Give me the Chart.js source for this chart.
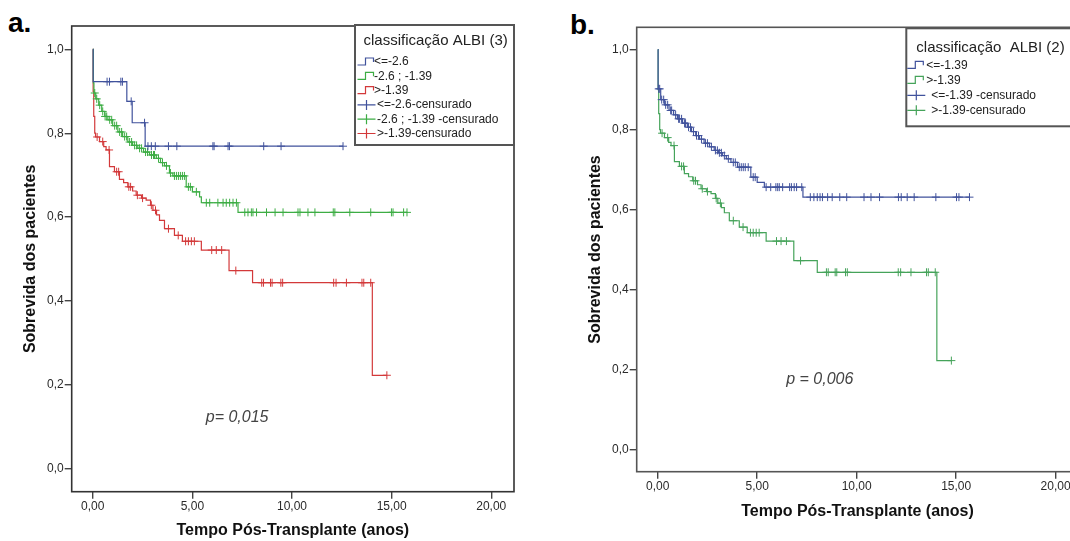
<!DOCTYPE html>
<html>
<head>
<meta charset="utf-8">
<script src="https://cdn.jsdelivr.net/npm/chart.js@4.4.1/dist/chart.umd.min.js"></script>
<style>
  html, body { margin: 0; padding: 0; background: #fff; overflow: hidden; width: 1070px; height: 541px; }
  #wrapA { position: absolute; left: 0; top: 0; width: 535px; height: 541px; }
  #wrapB { position: absolute; left: 540px; top: 0; width: 560px; height: 541px; }
  .tag { position: absolute; font: bold 28px "Liberation Sans", Arial, sans-serif; line-height: 28px; color: #000; }
</style>
</head>
<body>
<div class="tag" style="left:8px; top:9px;">a.</div>
<div class="tag" style="left:570px; top:11px;">b.</div>
<div id="wrapA"><canvas id="chartA" width="535" height="541"></canvas></div>
<div id="wrapB"><canvas id="chartB" width="560" height="541"></canvas></div>

<script>
// tempos em anos, sobrevida acumulada
const xTicks = [0, 5, 10, 15, 20];
const yTicks = [0, 0.2, 0.4, 0.6, 0.8, 1.0];

// painel a: classificação ALBI (3)
const albi3Names = ['<=-2.6', '-2.6 ; -1.39', '>-1.39'];
const albi3CensNames = ['<=-2.6-censurado', '-2.6 ; -1.39 -censurado', '>-1.39-censurado'];

const lowSteps = [[0, 1], [0.02, 0.923], [1.71, 0.876], [1.98, 0.825], [2.63, 0.769], [12.56, 0.769]];
const lowCens = [0.72, 0.84, 1.41, 1.49, 1.93, 2.6, 2.77, 2.94, 3.14, 3.8, 4.22, 6.03, 6.09, 6.79, 6.86, 8.58, 9.45, 12.56];

const midSteps = [[0, 1], [0.03, 0.92], [0.06, 0.896], [0.15, 0.882], [0.3, 0.867], [0.45, 0.852], [0.6, 0.84],
  [0.76, 0.832], [1.0, 0.818], [1.26, 0.803], [1.5, 0.792], [1.76, 0.779], [2.0, 0.771], [2.26, 0.764],
  [2.55, 0.755], [2.85, 0.748], [3.19, 0.74], [3.4, 0.73], [3.6, 0.722], [3.85, 0.705], [4.02, 0.698],
  [4.69, 0.672], [5.0, 0.66], [5.36, 0.648], [5.45, 0.634], [7.29, 0.611], [15.77, 0.611]];
const midCens = [0.1, 0.2, 0.35, 0.5, 0.62, 0.7, 0.85, 0.95, 1.1, 1.2, 1.35, 1.45, 1.6, 1.7, 1.85, 1.95, 2.1, 2.2,
  2.35, 2.45, 2.65, 2.75, 2.95, 3.05, 3.1, 3.3, 3.5, 3.7, 3.9, 4.1, 4.2, 4.3, 4.4, 4.5, 4.6, 4.8, 4.9, 5.2,
  5.7, 5.87, 6.28, 6.54, 6.7, 6.87, 7.04, 7.21, 7.63, 7.79, 7.96, 8.04, 8.22, 8.72, 9.15, 9.55, 10.3, 10.4,
  10.8, 11.15, 12.07, 12.15, 12.9, 13.95, 14.99, 15.07, 15.6, 15.77];

// >-1.39 (mesmo grupo nos dois painéis)
const highSteps = [[0, 1], [0.02, 0.9], [0.05, 0.84], [0.1, 0.8], [0.14, 0.791], [0.34, 0.78], [0.55, 0.768],
  [0.67, 0.76], [0.84, 0.72], [1.09, 0.708], [1.34, 0.69], [1.55, 0.682], [1.76, 0.672], [2.0, 0.662],
  [2.18, 0.652], [2.45, 0.645], [2.68, 0.64], [2.9, 0.628], [3.02, 0.616], [3.2, 0.605], [3.35, 0.592],
  [3.6, 0.572], [4.1, 0.556], [4.5, 0.542], [5.45, 0.521], [6.84, 0.472], [8.02, 0.443], [14.03, 0.222], [14.76, 0.222]];
const highCens = [0.22, 0.5, 0.82, 1.2, 1.3, 1.81, 1.9, 2.24, 2.5, 2.94, 3.15, 3.8, 4.29, 4.66, 4.8, 4.95, 5.1,
  5.97, 6.2, 6.47, 7.18, 8.48, 8.57, 8.92, 9.0, 9.44, 9.53, 12.09, 12.21, 12.73, 13.51, 13.6, 13.95, 14.76];

// painel b: classificação ALBI (2)
const albi2Names = ['<=-1.39', '>-1.39'];
const albi2CensNames = ['<=-1.39 -censurado', '>-1.39-censurado'];

const le139Steps = [[0, 1], [0.02, 0.902], [0.15, 0.875], [0.35, 0.862], [0.57, 0.848], [0.8, 0.837], [0.99, 0.827],
  [1.25, 0.816], [1.49, 0.806], [1.7, 0.795], [1.91, 0.785], [2.1, 0.776], [2.33, 0.766], [2.6, 0.757],
  [2.84, 0.748], [3.05, 0.742], [3.25, 0.735], [3.45, 0.727], [3.68, 0.718], [4.01, 0.706], [4.68, 0.681],
  [5.0, 0.668], [5.36, 0.656], [7.3, 0.631], [15.67, 0.631]];
const le139Cens = [0.05, 0.1, 0.2, 0.3, 0.4, 0.5, 0.65, 0.7, 0.9, 1.05, 1.1, 1.2, 1.35, 1.4, 1.55, 1.65, 1.8, 1.95,
  2.05, 2.2, 2.4, 2.5, 2.7, 2.9, 3.0, 3.1, 3.2, 3.35, 3.55, 3.8, 3.9, 4.1, 4.2, 4.3, 4.4, 4.55, 4.8, 4.9, 5.45,
  5.68, 5.94, 6.03, 6.11, 6.28, 6.63, 6.72, 6.86, 6.98, 7.24, 7.67, 7.85, 8.02, 8.16, 8.28, 8.54, 8.77, 9.15,
  9.5, 10.37, 10.72, 11.15, 12.1, 12.24, 12.54, 12.89, 13.98, 15.02, 15.14, 15.67];

const FONT = '"Liberation Sans", Arial, sans-serif';
const BLUE = '#40529c';
const GREEN_A = '#3dad44';
const RED = '#d3393a';
const GREEN_B = '#45a35a';

function survivalAt(steps, t) {
    let s = steps[0][1];
    for (let i = 0; i < steps.length; i++) {
        if (steps[i][0] <= t) s = steps[i][1];
    }
    return s;
}

function curveSets(steps, cens, color) {
    return [{
        data: steps.map(p => ({ x: p[0], y: p[1] })),
        showLine: true,
        stepped: true,
        borderColor: color,
        borderWidth: 1.2,
        pointRadius: 0,
        fill: false
    }, {
        data: cens.map(t => ({ x: t, y: survivalAt(steps, t) })),
        showLine: false,
        pointStyle: 'cross',
        pointRadius: 4,
        pointBorderWidth: 1,
        borderColor: color,
        backgroundColor: color
    }];
}

const framePlugin = {
    id: 'frame',
    beforeDatasetsDraw(chart, args, o) {
        const a = chart.chartArea, ctx = chart.ctx;
        ctx.save();
        ctx.strokeStyle = o.color || '#3a3a3a';
        ctx.lineWidth = 1.6;
        ctx.strokeRect(a.left, a.top, a.right - a.left, a.bottom - a.top);
        ctx.restore();
    }
};

const kmLegend = {
    id: 'kmLegend',
    afterDraw(chart, args, o) {
        const ctx = chart.ctx, a = chart.chartArea;
        const x0 = a.right - o.width, y0 = a.top + o.dy;
        ctx.save();
        ctx.fillStyle = '#fff';
        ctx.fillRect(x0, y0, o.width, o.height);
        ctx.strokeStyle = '#555';
        ctx.lineWidth = 2;
        ctx.strokeRect(x0, y0, o.width, o.height);
        ctx.fillStyle = '#222';
        ctx.textBaseline = 'middle';
        ctx.font = '15px ' + FONT;
        ctx.fillText(o.title, x0 + o.titleX, y0 + o.titleY);
        ctx.font = '12px ' + FONT;
        o.items.forEach((it, i) => {
            const cy = y0 + o.rowY + i * o.rowGap;
            const ix = x0 + o.iconX;
            ctx.strokeStyle = it.color;
            ctx.lineWidth = 1.2;
            ctx.beginPath();
            if (it.kind === 'step') {
                ctx.moveTo(ix, cy + 3);
                ctx.lineTo(ix + 8, cy + 3);
                ctx.lineTo(ix + 8, cy - 4);
                ctx.lineTo(ix + 16, cy - 4);
                ctx.lineTo(ix + 16, cy);
            } else {
                ctx.moveTo(ix, cy);
                ctx.lineTo(ix + 18, cy);
                ctx.moveTo(ix + 9, cy - 5);
                ctx.lineTo(ix + 9, cy + 5);
            }
            ctx.stroke();
            ctx.fillStyle = '#222';
            ctx.fillText(it.label, x0 + (it.kind === 'step' ? o.textX : o.textX2), cy);
        });
        ctx.restore();
    }
};

const pNote = {
    id: 'pNote',
    afterDraw(chart, args, o) {
        const ctx = chart.ctx;
        ctx.save();
        ctx.font = 'italic 16px ' + FONT;
        ctx.fillStyle = '#444';
        ctx.textBaseline = 'middle';
        ctx.fillText(o.text, chart.scales.x.getPixelForValue(o.x), chart.scales.y.getPixelForValue(o.y));
        ctx.restore();
    }
};

function kmChart(id, datasets, cfg) {
    return new Chart(document.getElementById(id), {
        type: 'scatter',
        data: { datasets: datasets },
        options: {
            responsive: false,
            animation: false,
            devicePixelRatio: 1,
            layout: { padding: cfg.padding },
            plugins: {
                legend: { display: false },
                tooltip: { enabled: false },
                frame: { color: cfg.frameColor },
                kmLegend: cfg.legend,
                pNote: cfg.note
            },
            scales: {
                x: {
                    type: 'linear',
                    min: -1.056,
                    max: 21.14,
                    afterBuildTicks: s => { s.ticks = xTicks.map(v => ({ value: v })); },
                    afterFit: s => { s.height = cfg.xHeight; },
                    ticks: {
                        callback: v => v.toFixed(2).replace('.', ','),
                        font: { family: FONT, size: 12 },
                        color: '#2a2a2a',
                        padding: 1,
                        maxRotation: 0,
                        autoSkip: false
                    },
                    grid: { drawOnChartArea: false, drawTicks: true, tickLength: 7, color: '#444', lineWidth: 1.4 },
                    border: { display: false },
                    title: {
                        display: true,
                        text: 'Tempo Pós-Transplante (anos)',
                        font: { family: FONT, size: 16, weight: 'bold' },
                        color: '#111',
                        padding: { top: 0, bottom: cfg.xTitlePad }
                    }
                },
                y: {
                    type: 'linear',
                    min: -0.056,
                    max: 1.056,
                    afterBuildTicks: s => { s.ticks = yTicks.map(v => ({ value: v })); },
                    afterFit: s => { s.width = cfg.yWidth; },
                    ticks: {
                        callback: v => v.toFixed(1).replace('.', ','),
                        font: { family: FONT, size: 12 },
                        color: '#2a2a2a',
                        padding: 1
                    },
                    grid: { drawOnChartArea: false, drawTicks: true, tickLength: 7, color: '#444', lineWidth: 1.4 },
                    border: { display: false },
                    title: {
                        display: true,
                        text: 'Sobrevida dos pacientes',
                        font: { family: FONT, size: 16, weight: 'bold' },
                        color: '#111',
                        padding: { top: cfg.yTitlePad, bottom: 0 }
                    }
                }
            }
        },
        plugins: [framePlugin, kmLegend, pNote]
    });
}

const setsA = [].concat(
    curveSets(lowSteps, lowCens, BLUE),
    curveSets(midSteps, midCens, GREEN_A),
    curveSets(highSteps, highCens, RED)
);
const colorsA = [BLUE, GREEN_A, RED];

kmChart('chartA', setsA, {
    padding: { left: 0, top: 26, right: 21, bottom: 0 },
    xHeight: 49.3,
    yWidth: 71.7,
    xTitlePad: 0.4,
    yTitlePad: 21.4,
    frameColor: '#333',
    legend: {
        title: 'classificação ALBI (3)',
        width: 159, height: 120, dy: -1,
        titleX: 8.5, titleY: 15.5,
        iconX: 2.5, textX: 19, textX2: 22,
        rowY: 37, rowGap: 14.3,
        items: albi3Names.map((n, i) => ({ label: n, color: colorsA[i], kind: 'step' }))
            .concat(albi3CensNames.map((n, i) => ({ label: n, color: colorsA[i], kind: 'cross' })))
    },
    note: { text: 'p= 0,015', x: 5.67, y: 0.122 }
});

const setsB = [].concat(
    curveSets(le139Steps, le139Cens, BLUE),
    curveSets(highSteps, highCens, GREEN_B)
);
const colorsB = [BLUE, GREEN_B];

kmChart('chartB', setsB, {
    padding: { left: 0, top: 27.3, right: 21.7, bottom: 0 },
    xHeight: 69.3,
    yWidth: 96.7,
    xTitlePad: 19.4,
    yTitlePad: 45.9,
    frameColor: '#555',
    legend: {
        title: 'classificação  ALBI (2)',
        width: 172, height: 98, dy: 1,
        titleX: 10, titleY: 19.4,
        iconX: 1, textX: 20, textX2: 25,
        rowY: 37, rowGap: 15,
        items: albi2Names.map((n, i) => ({ label: n, color: colorsB[i], kind: 'step' }))
            .concat(albi2CensNames.map((n, i) => ({ label: n, color: colorsB[i], kind: 'cross' })))
    },
    note: { text: 'p = 0,006', x: 6.46, y: 0.174 }
});
</script>
</body>
</html>
